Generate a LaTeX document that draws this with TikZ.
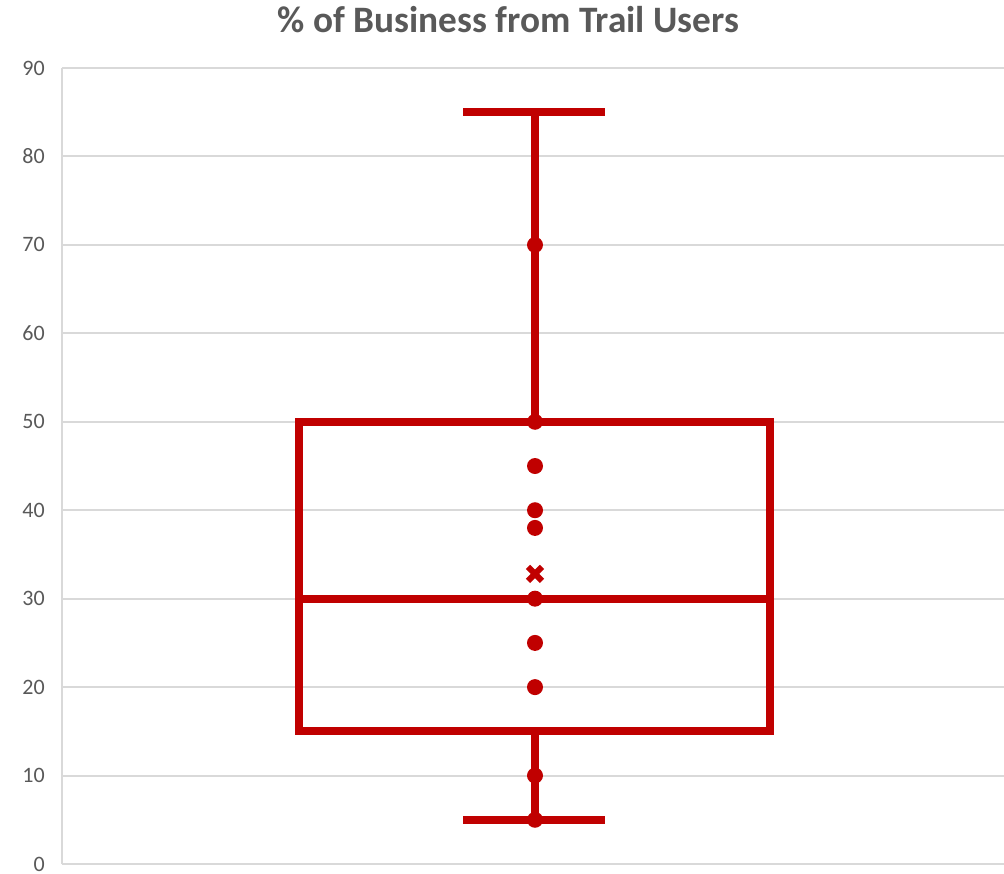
\documentclass[tikz,border=0pt]{standalone}
\usepackage{fontspec}
\setmainfont{Carlito}
\usetikzlibrary{calc}
\definecolor{boxred}{HTML}{C00000}
\definecolor{gridgray}{HTML}{D9D9D9}
\definecolor{textgray}{HTML}{595959}
\tikzset{
  gridline/.style={draw=gridgray, line width=2pt},
  ticklabel/.style={anchor=east, text=textgray, font=\fontsize{22}{22}\selectfont, inner sep=0pt},
  boxline/.style={draw=boxred, line width=8pt},
  datapoint/.style={fill=boxred, draw=none},
  titlelabel/.style={text=textgray, font=\bfseries\fontsize{37.3}{37.3}\selectfont, inner sep=0pt, anchor=base}
}
\newcommand{\yv}[1]{864-8.844*#1}
\begin{document}
\begin{tikzpicture}[x=1pt,y=-1pt]
\useasboundingbox[fill=white] (0,0) rectangle (1004,874);
% gridlines and tick labels
\foreach \v in {0,10,...,90}{
  \draw[gridline] (62,{\yv{\v}}) -- (1004,{\yv{\v}});
  \node[ticklabel] (tick\v) at (45,{\yv{\v}}) {\v};
}
\draw[gridline] (62,{\yv{0}}) -- (62,{\yv{90}});
% title
\node[titlelabel] (title) at (508.5,33) {\% of Business from Trail Users};
% whiskers
\coordinate (wtop) at (535,{\yv{85}});
\coordinate (wbot) at (535,{\yv{5}});
\coordinate (q3) at (535,{\yv{50}});
\coordinate (q1) at (535,{\yv{15}});
\draw[boxline] (wtop) -- (q3);
\draw[boxline] (q1) -- (wbot);
\draw[boxline] (463,{\yv{85}}) -- (605,{\yv{85}});
\draw[boxline] (463,{\yv{5}}) -- (605,{\yv{5}});
% box
\draw[boxline] (299,{\yv{15}}) rectangle (770,{\yv{50}});
\draw[boxline] (299,{\yv{30}}) -- (770,{\yv{30}});
% points
\foreach \v in {5,10,20,25,30,38,40,45,50,70}{
  \fill[datapoint] (535,{\yv{\v}}) circle (8);
}
% mean marker
\coordinate (mean) at (535,{\yv{32.8}});
\draw[boxred, line width=6pt] ($(mean)+(-7,-7)$) -- ($(mean)+(7,7)$);
\draw[boxred, line width=6pt] ($(mean)+(-7,7)$) -- ($(mean)+(7,-7)$);
\end{tikzpicture}
\end{document}
